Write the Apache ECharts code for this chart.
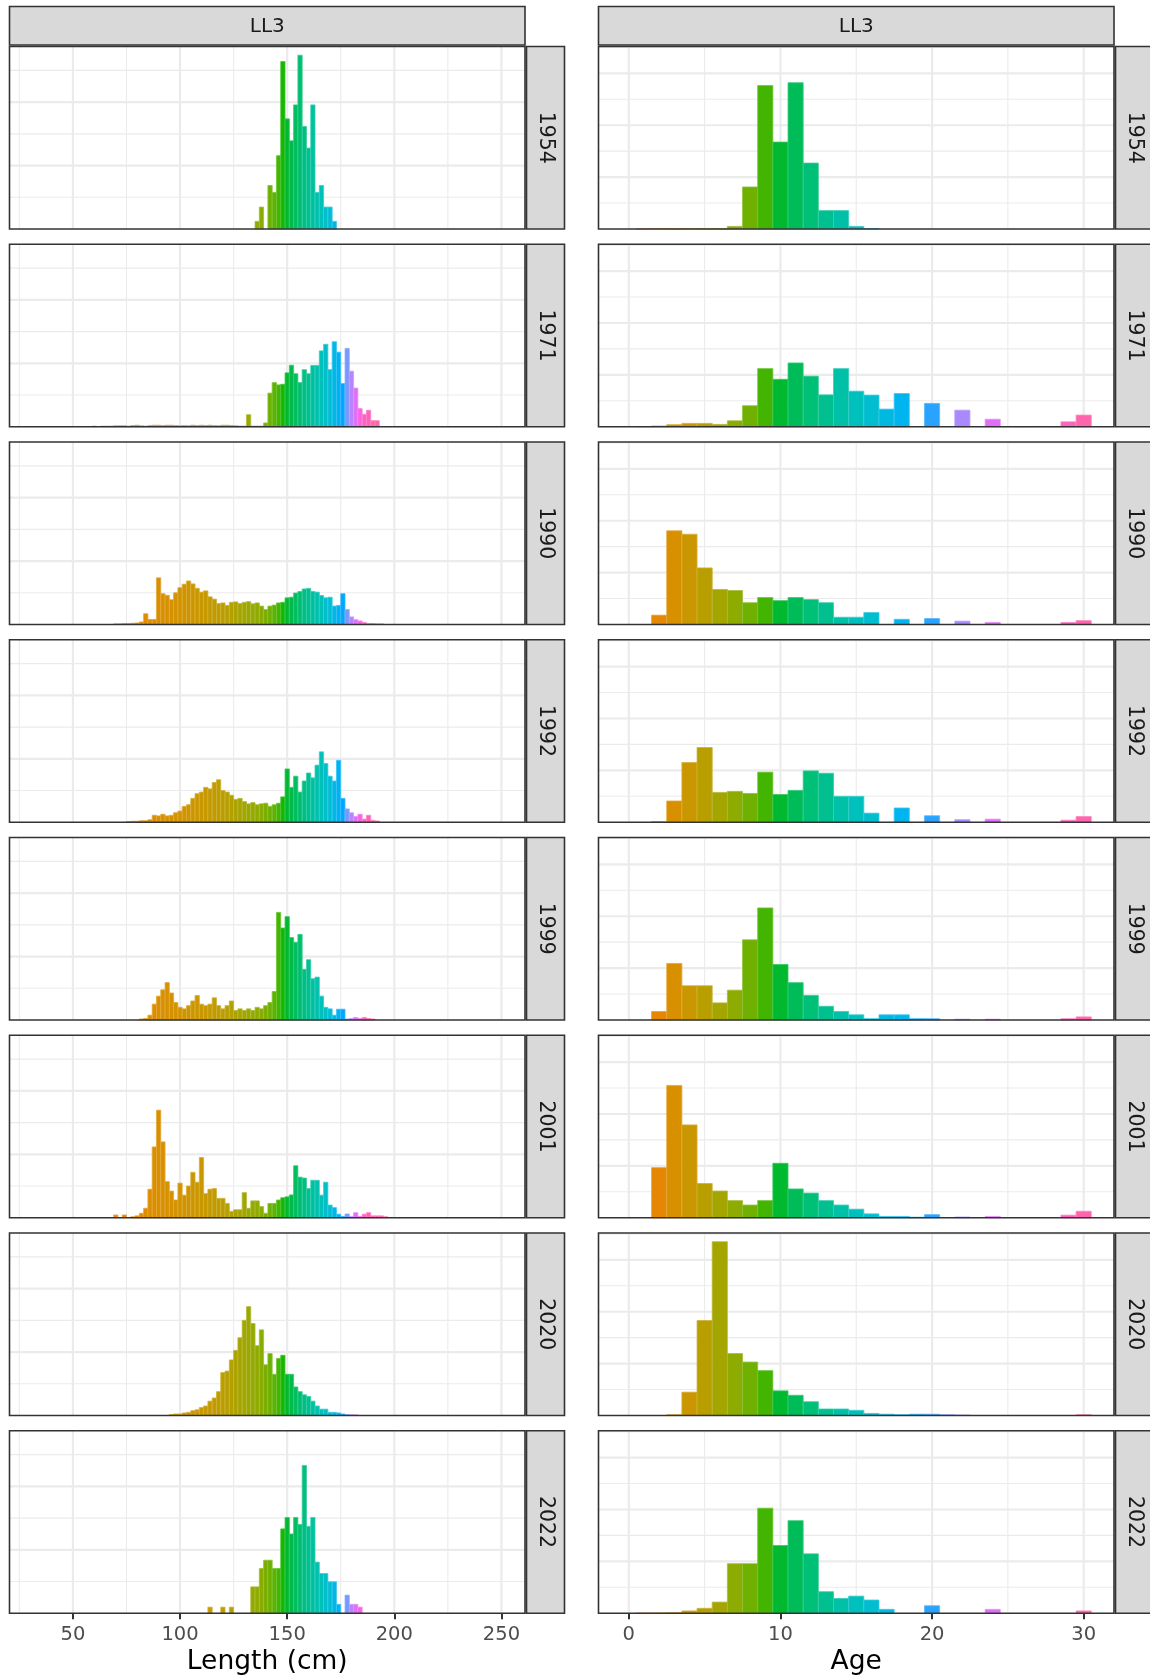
<!DOCTYPE html>
<html>
<head>
<meta charset="utf-8">
<script src="https://cdn.jsdelivr.net/npm/echarts@6/dist/echarts.min.js"></script>
<style>
  html, body { margin: 0; padding: 0; background: #ffffff; }
  #chart { width: 1150px; height: 1677px; }
</style>
</head>
<body>
<div id="chart"></div>
<script>
// ---- facets ----
const years = ['1954', '1971', '1990', '1992', '1999', '2001', '2020', '2022'];
const fleetLabel = 'LL3';
const lengthTitle = 'Length (cm)';
const ageTitle = 'Age';

// ---- axis breaks ----
const lengthTicks = [50, 100, 150, 200, 250];
const ageTicks = [0, 10, 20, 30];
const lengthGridX = [25, 50, 75, 100, 125, 150, 175, 200, 225, 250];
const ageGridX = [0, 5, 10, 15, 20, 25, 30];
const lengthGridY = [2.5, 5, 7.5, 10, 12.5];
const ageGridY = [5, 10, 15, 20, 25, 30, 35];

// ---- length composition: % of fish per 2 cm class; *From = centre of first class ----
const lenBinWidth = 2;
const len1954From = 136;
const len1954 = [0.6, 1.73, 0, 3.43, 2.88, 5.78, 13.2, 8.68, 6.95, 9.78, 13.7, 8.08, 6.38, 9.78, 2.88, 3.43, 1.73, 1.73, 0.6];
const len1971From = 60;
const len1971 = [0.05, 0, 0.05, 0.05, 0.05, 0.08, 0.08, 0.08, 0.05, 0.1, 0.12, 0.08, 0.05, 0.1, 0.12, 0.12, 0.1, 0.12, 0.12, 0.1,
  0.08, 0.1, 0.08, 0.12, 0.1, 0.12, 0.1, 0.12, 0.1, 0.08, 0.12, 0.12, 0.1, 0.08, 0.05, 0.05, 0.95, 0.05, 0.05, 0.05,
  0.3, 2.65, 3.48, 3.3, 3.35, 4.25, 4.85, 4.18, 3.48, 4.5, 4.18, 4.83, 4.83, 5.98, 6.5, 4.5, 6.7, 5.88, 3.4, 6.18,
  4.38, 3.05, 1.43, 0.98, 1.3, 0.48, 0.48];
const len1990From = 70;
const len1990 = [0.05, 0.05, 0.08, 0.08, 0.1, 0.12, 0.2, 0.85, 0.4, 0.4, 3.68, 2.43, 2.3, 1.95, 2.5, 2.9, 3.18, 3.43, 3.2, 2.85,
  2.55, 2.65, 2.18, 2.0, 1.65, 1.7, 1.5, 1.75, 1.78, 1.65, 1.75, 1.8, 1.63, 1.7, 1.45, 1.18, 1.45, 1.53, 1.7, 1.75,
  2.1, 2.15, 2.48, 2.6, 2.8, 2.85, 2.6, 2.55, 2.28, 2.1, 2.15, 1.45, 1.5, 2.43, 1.18, 0.6, 0.38, 0.28, 0.15, 0.08,
  0.08, 0.05, 0.05];
const len1992From = 76;
const len1992 = [0.05, 0.08, 0.08, 0.12, 0.12, 0.2, 0.55, 0.5, 0.63, 0.5, 0.55, 0.75, 0.88, 1.25, 1.38, 1.88, 2.25, 2.38, 2.75, 2.63,
  3.13, 3.35, 2.5, 2.38, 2.13, 1.8, 1.88, 1.63, 1.45, 1.55, 1.38, 1.45, 1.5, 1.25, 1.38, 1.5, 2.0, 4.2, 2.75, 3.63,
  2.38, 3.25, 3.88, 3.5, 4.5, 5.55, 4.63, 3.63, 3.25, 4.88, 1.88, 1.05, 0.75, 0.45, 0.63, 0.25, 0.55, 0.15, 0.1];
const len1999From = 82;
const len1999 = [0.08, 0.12, 0.38, 1.25, 1.88, 2.38, 2.95, 2.13, 1.38, 1.0, 0.88, 1.13, 1.5, 1.93, 1.25, 1.13, 1.25, 1.75, 1.13, 0.88,
  1.13, 1.5, 0.75, 0.88, 0.75, 0.88, 0.75, 1.0, 0.88, 1.13, 1.38, 2.25, 8.48, 7.25, 8.15, 6.5, 6.13, 6.75, 4.0, 4.75,
  3.25, 3.38, 1.88, 1.0, 0.88, 0.38, 0.85, 0.85, 0.08, 0.12, 0.2, 0.12, 0.2, 0.12, 0.08];
const len2001From = 70;
const len2001 = [0.22, 0, 0.22, 0, 0.08, 0.15, 0.35, 0.75, 2.25, 5.58, 8.48, 5.98, 2.85, 2.1, 1.4, 2.73, 1.78, 2.5, 3.58, 2.8,
  4.75, 1.9, 2.25, 2.3, 1.53, 1.53, 1.13, 0.5, 0.63, 0.63, 1.98, 0.75, 1.33, 1.33, 0.88, 0.35, 1.13, 1.13, 1.4, 1.58,
  1.65, 1.8, 4.1, 3.2, 3.13, 2.3, 2.95, 2.95, 1.78, 2.8, 1.0, 0.8, 0.28, 0.1, 0.3, 0.1, 0.4, 0.1, 0.28, 0.4,
  0.15, 0.15, 0.15, 0.08];
const len2020From = 96;
const len2020 = [0.08, 0.12, 0.12, 0.2, 0.25, 0.38, 0.45, 0.63, 0.75, 1.13, 1.38, 1.88, 3.38, 3.5, 4.38, 5.13, 6.13, 7.5, 8.58, 7.25,
  5.5, 6.75, 4.0, 4.88, 3.25, 4.5, 4.75, 3.25, 3.25, 2.25, 1.88, 1.63, 1.5, 1.13, 0.75, 0.5, 0.5, 0.25, 0.25, 0.2,
  0.12, 0.08, 0.05, 0.05];
const len2022From = 114;
const len2022 = [0.48, 0, 0, 0.48, 0, 0.48, 0, 0, 0, 0, 2.08, 2.08, 3.53, 4.18, 4.18, 3.53, 3.53, 6.65, 7.55, 6.25,
  7.55, 7.0, 11.65, 6.85, 7.55, 4.03, 3.13, 3.13, 2.48, 2.48, 0.7, 0, 1.43, 0.7, 0.7, 0.48];

// ---- age composition: % of fish at ages 0..30 ----
const ageBinWidth = 1;
const age1954 = [0, 0.05, 0.05, 0.05, 0.05, 0.05, 0.05, 0.5, 8.1, 27.65, 16.75, 28.2, 12.7, 3.55, 3.55, 0.5, 0.05, 0, 0, 0, 0, 0, 0, 0, 0, 0, 0, 0, 0, 0, 0];
const age1971 = [0, 0.05, 0.15, 0.4, 0.65, 0.65, 0.45, 1.15, 4.05, 11.2, 9.15, 12.3, 9.75, 6.15, 11.2, 6.85, 6.1, 3.4, 6.4, 0, 4.5, 0, 3.2, 0, 1.45, 0.05, 0.05, 0.05, 0.05, 0.95, 2.25];
const age1990 = [0, 0, 1.8, 18.05, 17.4, 10.9, 6.75, 6.55, 4.2, 5.2, 4.6, 5.2, 4.8, 4.2, 1.4, 1.4, 2.3, 0, 1.0, 0, 1.15, 0, 0.65, 0, 0.4, 0, 0, 0, 0, 0.4, 0.75];
const age1992 = [0, 0, 0.1, 4.1, 11.5, 14.4, 5.75, 5.95, 5.55, 9.65, 5.35, 6.15, 9.9, 9.45, 5.0, 5.0, 1.75, 0, 2.75, 0, 1.25, 0, 0.5, 0, 0.6, 0, 0, 0, 0, 0.4, 1.1];
const age1999 = [0, 0, 1.65, 10.9, 6.6, 6.6, 3.3, 5.75, 15.45, 21.6, 10.7, 7.2, 4.75, 2.65, 1.65, 1.0, 0.25, 1.0, 1.0, 0.25, 0.25, 0, 0.15, 0, 0.15, 0, 0, 0, 0, 0.25, 0.6];
const age2001 = [0, 0, 9.65, 25.5, 17.9, 6.6, 5.15, 3.3, 2.45, 3.3, 10.5, 5.55, 4.75, 3.3, 2.45, 1.65, 0.75, 0.25, 0.25, 0.1, 0.6, 0, 0.15, 0, 0.25, 0, 0, 0, 0, 0.5, 1.25];
const age2020 = [0, 0, 0, 0.15, 4.5, 18.3, 33.5, 11.95, 10.3, 8.65, 4.75, 3.9, 2.65, 1.25, 1.25, 1.0, 0.4, 0.25, 0.15, 0.25, 0.25, 0.15, 0.1, 0, 0, 0, 0, 0, 0, 0, 0.15];
const age2022 = [0, 0.05, 0.05, 0.1, 0.45, 0.95, 2.15, 9.55, 9.55, 20.25, 13.05, 17.85, 11.45, 4.15, 2.85, 3.3, 2.55, 0.75, 0, 0, 1.45, 0, 0, 0, 0.75, 0, 0, 0, 0, 0, 0.45];

const lengthSets = [
  [len1954From, len1954], [len1971From, len1971], [len1990From, len1990], [len1992From, len1992],
  [len1999From, len1999], [len2001From, len2001], [len2020From, len2020], [len2022From, len2022]
];
const ageSets = [age1954, age1971, age1990, age1992, age1999, age2001, age2020, age2022];

// ---- layout (px) ----
const colLeft = [9.5, 598.5];
const panelW = 515.5;
const panelTop = 46.5;
const panelH = 182.5;
const rowStep = 197.75;
const stripW = 38;
const topStripY = 6.5;
const topStripH = 38.5;
const xRange = [[20.4, 261], [-2, 32]];

const FONT = '"DejaVu Sans", "Liberation Sans", sans-serif';
const GRID_COL = '#EBEBEB';
const DARK = '#333333';

// ---- colours: HCL hue wheel (c = 100, l = 65) ----
function hclToHex(h, c, l) {
  const hr = h * Math.PI / 180;
  const u = c * Math.cos(hr), v = c * Math.sin(hr);
  const Xn = 95.047, Yn = 100.0, Zn = 108.883;
  const den = Xn + 15 * Yn + 3 * Zn;
  const un = 4 * Xn / den, vn = 9 * Yn / den;
  const Y = l > 8 ? Yn * Math.pow((l + 16) / 116, 3) : Yn * l / 903.3;
  const up = u / (13 * l) + un, vp = v / (13 * l) + vn;
  const X = 9 * Y * up / (4 * vp);
  const Z = -X / 3 - 5 * Y + 3 * Y / vp;
  const lin = [
    3.240479 * X - 1.537150 * Y - 0.498535 * Z,
    -0.969256 * X + 1.875992 * Y + 0.041556 * Z,
    0.055648 * X - 0.204043 * Y + 1.057311 * Z
  ].map(t => t / 100);
  const gam = t => {
    t = Math.min(1, Math.max(0, t));
    return t <= 0.0031308 ? 12.92 * t : 1.055 * Math.pow(t, 1 / 2.4) - 0.055;
  };
  return lin.map(t => Math.round(gam(t) * 255));
}
function rgbStr(rgb, mixWhite) {
  const m = mixWhite || 0;
  const r = rgb.map(k => Math.round(k + (255 - k) * m));
  return 'rgb(' + r.join(',') + ')';
}
function interpKnots(knots, x) {
  if (x <= knots[0][0]) return knots[0][1];
  for (let i = 1; i < knots.length; i++) {
    if (x <= knots[i][0]) {
      const [x0, y0] = knots[i - 1], [x1, y1] = knots[i];
      return y0 + (y1 - y0) * (x - x0) / (x1 - x0);
    }
  }
  return knots[knots.length - 1][1];
}
// hue keyed on age, and on length through the matching size at age
const ageHue = [[0, 15], [10, 133], [20, 248], [24, 298], [30, 347]];
const lengthHue = [[30, 20], [60, 32], [80, 42], [90, 50], [100, 56], [110, 63], [120, 72], [130, 88], [138, 100],
  [145, 118], [150, 133], [155, 150], [160, 168], [165, 185], [170, 205], [174, 228], [177, 250], [180, 278],
  [183, 308], [186, 335], [190, 347], [260, 360]];
const colourFns = [
  x => hclToHex(interpKnots(lengthHue, x), 100, 65),
  x => hclToHex(interpKnots(ageHue, x), 100, 65)
];

const maxOf = arrs => Math.max.apply(null, arrs.map(a => Math.max.apply(null, a)));
const yMax = [
  maxOf(lengthSets.map(s => s[1])) * 1.05,
  maxOf(ageSets) * 1.05
];

// ---- build grids / axes / series ----
const grids = [], xAxes = [], yAxes = [], series = [], graphics = [];

function gridLineSeries(gi, col) {
  const xs = col === 0 ? lengthGridX : ageGridX;
  const ys = col === 0 ? lengthGridY : ageGridY;
  const xMajorStep = col === 0 ? 50 : 10;
  const yMajorStep = col === 0 ? 5 : 10;
  const data = [];
  xs.forEach(v => data.push([v, 0, Math.abs(v % xMajorStep) < 1e-9 ? 1 : 0]));
  ys.forEach(v => data.push([xRange[col][0], v, Math.abs(v % yMajorStep) < 1e-9 ? 3 : 2]));
  return {
    type: 'custom', xAxisIndex: gi, yAxisIndex: gi, z: 1, silent: true, animation: false,
    data: data,
    renderItem: function (params, api) {
      const cs = params.coordSys;
      const kind = api.value(2);
      const major = kind === 1 || kind === 3;
      const w = major ? 2.2 : 1.1;
      let shape;
      if (kind < 2) {
        const px = api.coord([api.value(0), 0])[0];
        if (px < cs.x || px > cs.x + cs.width) return null;
        shape = { x1: px, y1: cs.y, x2: px, y2: cs.y + cs.height };
      } else {
        const py = api.coord([api.value(0), api.value(1)])[1];
        if (py < cs.y || py > cs.y + cs.height) return null;
        shape = { x1: cs.x, y1: py, x2: cs.x + cs.width, y2: py };
      }
      return { type: 'line', shape: shape, style: { stroke: GRID_COL, lineWidth: w } };
    }
  };
}

function barSeries(gi, col, bins) {
  const hw = (col === 0 ? lenBinWidth : ageBinWidth) / 2;
  const colour = colourFns[col];
  return {
    type: 'custom', xAxisIndex: gi, yAxisIndex: gi, z: 2, silent: true, animation: false,
    data: bins,
    renderItem: function (params, api) {
      const c = api.value(0), v = api.value(1);
      if (!(v > 0)) return null;
      const p0 = api.coord([c - hw, 0]);
      const p1 = api.coord([c + hw, v]);
      const rgb = colour(c);
      return {
        type: 'rect',
        shape: { x: p0[0], y: p1[1], width: p1[0] - p0[0], height: p0[1] - p1[1] },
        style: { fill: rgbStr(rgb, 0), stroke: rgbStr(rgb, 0.22), lineWidth: 0.8 }
      };
    }
  };
}

years.forEach((yr, r) => {
  const top = panelTop + r * rowStep;
  const isBottom = r === years.length - 1;
  [0, 1].forEach(col => {
    const gi = grids.length;
    grids.push({ left: colLeft[col], top: top, width: panelW, height: panelH, show: false, containLabel: false });
    const ticks = col === 0 ? lengthTicks : ageTicks;
    xAxes.push({
      type: 'value', gridIndex: gi, min: xRange[col][0], max: xRange[col][1],
      axisLine: { show: false },
      splitLine: { show: false },
      axisTick: { show: isBottom, customValues: ticks, length: 6, lineStyle: { color: DARK, width: 2 } },
      axisLabel: { show: isBottom, customValues: ticks, margin: 12, fontSize: 19.5, color: '#4D4D4D', fontFamily: FONT }
    });
    yAxes.push({ type: 'value', gridIndex: gi, min: 0, max: yMax[col], show: false });

    series.push(gridLineSeries(gi, col));
    let bins;
    if (col === 0) {
      const from = lengthSets[r][0];
      bins = lengthSets[r][1].map((v, i) => [from + i * lenBinWidth, v]);
    } else {
      bins = ageSets[r].map((v, i) => [i, v]);
    }
    series.push(barSeries(gi, col, bins));

    // panel border
    graphics.push({
      type: 'rect', z: 100, silent: true,
      shape: { x: colLeft[col], y: top, width: panelW, height: panelH },
      style: { fill: 'none', stroke: DARK, lineWidth: 1.6 }
    });
    // year strip on the right of the panel
    const sx = colLeft[col] + panelW + 1.5;
    graphics.push({
      type: 'rect', z: 100, silent: true,
      shape: { x: sx, y: top, width: stripW, height: panelH },
      style: { fill: '#D9D9D9', stroke: DARK, lineWidth: 1.6 }
    });
    graphics.push({
      type: 'text', z: 101, silent: true,
      x: sx + stripW / 2, y: top + panelH / 2, rotation: -Math.PI / 2,
      style: {
        text: yr, font: '20.5px ' + FONT, fill: '#1A1A1A',
        align: 'center', verticalAlign: 'middle', textAlign: 'center', textVerticalAlign: 'middle'
      }
    });
  });
});

// column strips and axis titles
[0, 1].forEach(col => {
  graphics.push({
    type: 'rect', z: 100, silent: true,
    shape: { x: colLeft[col], y: topStripY, width: panelW, height: topStripH },
    style: { fill: '#D9D9D9', stroke: DARK, lineWidth: 1.6 }
  });
  graphics.push({
    type: 'text', z: 101, silent: true,
    x: colLeft[col] + panelW / 2, y: topStripY + topStripH / 2 + 1.5,
    style: {
      text: fleetLabel, font: '20px ' + FONT, fill: '#1A1A1A',
      align: 'center', verticalAlign: 'middle', textAlign: 'center', textVerticalAlign: 'middle'
    }
  });
  graphics.push({
    type: 'text', z: 101, silent: true,
    x: colLeft[col] + panelW / 2, y: 1662,
    style: {
      text: col === 0 ? lengthTitle : ageTitle, font: '26.5px ' + FONT, fill: '#000000',
      align: 'center', verticalAlign: 'middle', textAlign: 'center', textVerticalAlign: 'middle'
    }
  });
});

const chart = echarts.init(document.getElementById('chart'), null, { renderer: 'canvas', width: 1150, height: 1677 });
chart.setOption({
  animation: false,
  backgroundColor: '#ffffff',
  grid: grids,
  xAxis: xAxes,
  yAxis: yAxes,
  series: series,
  graphic: { elements: graphics }
});
</script>
</body>
</html>
